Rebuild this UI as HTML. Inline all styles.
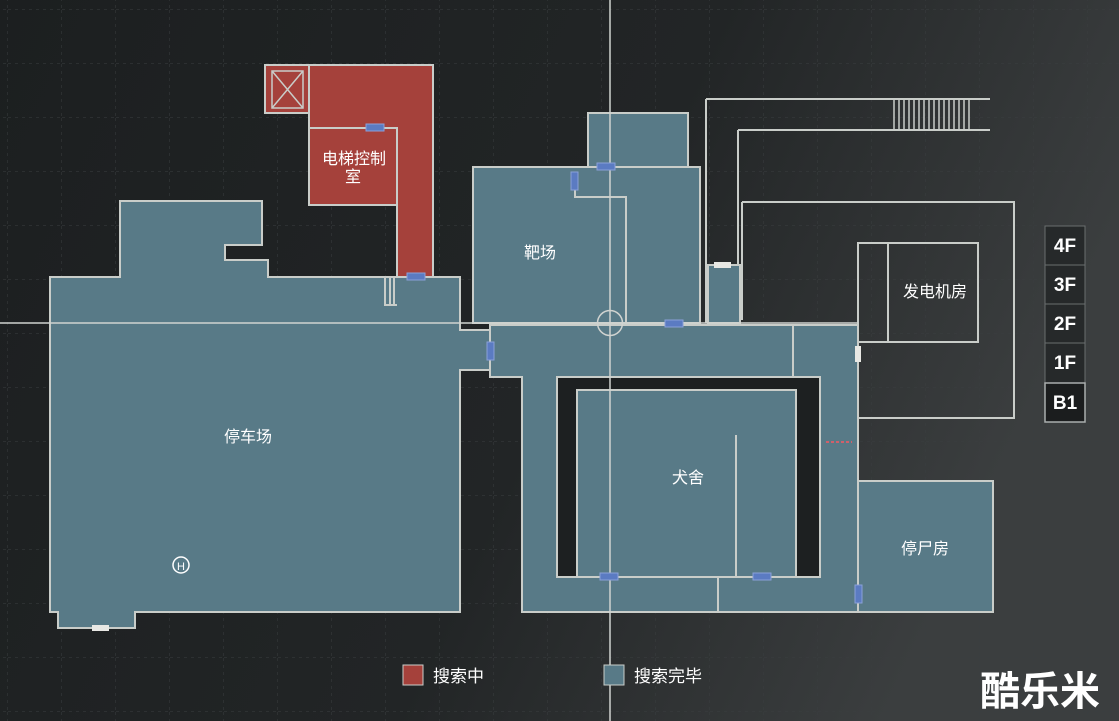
<!DOCTYPE html>
<html><head><meta charset="utf-8"><style>
html,body{margin:0;padding:0;background:#1f2223;}
svg{display:block}
text{font-family:"Liberation Sans","Noto Sans CJK SC",sans-serif;fill:#fff;}
</style></head><body>
<svg width="1119" height="721" viewBox="0 0 1119 721" xmlns="http://www.w3.org/2000/svg">
<defs>
<linearGradient id="bg" x1="0" y1="0" x2="1" y2="0.3">
<stop offset="0" stop-color="#1c1f20"/><stop offset="0.6" stop-color="#222526"/><stop offset="1" stop-color="#3b3e3f"/>
</linearGradient>
<pattern id="grid" width="54" height="54" patternUnits="userSpaceOnUse" x="8" y="10">
<path d="M54 0V54M0 54H54" stroke="#3a3e40" stroke-width="1" stroke-dasharray="3 4" fill="none"/>
</pattern>
</defs>
<rect width="1119" height="721" fill="url(#bg)"/>
<rect width="1119" height="721" fill="url(#grid)"/>

<g stroke="#c9cdc9" stroke-width="2" fill="none">
<path d="M706 99H990M706 99V323M738 130H990M738 130V323"/>
<path d="M742 202H1014V418H858M742 202V320"/>
<rect x="858" y="243" width="120" height="99"/>
<path d="M888 243V342"/>
</g>
<g stroke="#c9cdc9" stroke-width="1.5">
<path d="M894 99V130M899 99V130M904 99V130M909 99V130M914 99V130M919 99V130M924 99V130M929 99V130M934 99V130M939 99V130M944 99V130M949 99V130M954 99V130M959 99V130M964 99V130M969 99V130"/>
</g>

<g fill="#587a87" stroke="#c9cdc9" stroke-width="2">
<path d="M120 201H262V245H225V260H268V277H460V330H490V370H460V612H135V628H58V612H50V277H120Z"/>
<rect x="588" y="113" width="100" height="54"/>
<rect x="473" y="167" width="227" height="156"/>
<rect x="708" y="265" width="32" height="58"/>
<path d="M490 325H858V612H522V377H490Z"/>
<rect x="858" y="481" width="135" height="131"/>
</g>
<rect x="557" y="377" width="263" height="200" fill="#1d2021" stroke="#c9cdc9" stroke-width="2"/>
<rect x="577" y="390" width="219" height="187" fill="#587a87" stroke="#c9cdc9" stroke-width="2"/>
<g stroke="#c9cdc9" stroke-width="2" fill="none">
<path d="M793 325V377M718 577V612M736 435V577M575 183V197H626V323"/>
<path d="M385 277V305H397M390 277V305M394 277V305"/>
</g>

<g stroke="#c9cdc9" stroke-width="2">
<path d="M309 65H433V277H397V205H309Z" fill="#a5413b"/>
<rect x="265" y="65" width="44" height="48" fill="#a5413b"/>
<path d="M309 128H397V205" fill="none"/>
<rect x="272" y="71" width="31" height="37" fill="none" stroke-width="1.5"/>
<path d="M272 71L303 108M303 71L272 108" stroke-width="1.5"/>
</g>

<g stroke="#d0d3d0" stroke-width="1.5" fill="none">
<path d="M610 0V721M0 323H858"/>
<circle cx="610" cy="323" r="12.5"/>
</g>

<g fill="#5b7bc2" stroke="#8aa0d8" stroke-width="1">
<rect x="366" y="124" width="18" height="7"/>
<rect x="407" y="273" width="18" height="7"/>
<rect x="597" y="163" width="18" height="7"/>
<rect x="571" y="172" width="7" height="18"/>
<rect x="665" y="320" width="18" height="7"/>
<rect x="487" y="342" width="7" height="18"/>
<rect x="600" y="573" width="18" height="7"/>
<rect x="753" y="573" width="18" height="7"/>
<rect x="855" y="585" width="7" height="18"/>
</g>
<g fill="#e8e8e4">
<rect x="714" y="262" width="17" height="6"/>
<rect x="855" y="346" width="6" height="16"/>
<rect x="92" y="625" width="17" height="6"/>
</g>
<path d="M826 442H852" stroke="#d0606a" stroke-width="2" stroke-dasharray="3 2"/>
<circle cx="181" cy="565" r="8" fill="none" stroke="#fff" stroke-width="1.5"/>
<text x="181" y="570" font-size="11" text-anchor="middle">H</text>

<g font-size="16" text-anchor="middle">
<text x="354" y="164">电梯控制</text>
<text x="353" y="182">室</text>
<text x="540" y="258">靶场</text>
<text x="248" y="442">停车场</text>
<text x="688" y="483">犬舍</text>
<text x="925" y="554">停尸房</text>
<text x="935" y="297">发电机房</text>
</g>

<g stroke="#6a6e6f" stroke-width="1" fill="#26292a">
<rect x="1045" y="226" width="40" height="39"/>
<rect x="1045" y="265" width="40" height="39"/>
<rect x="1045" y="304" width="40" height="39"/>
<rect x="1045" y="343" width="40" height="40"/>
</g>
<rect x="1045" y="383" width="40" height="39" fill="#1b1d1e" stroke="#aaaeae" stroke-width="1.5"/>
<g font-size="19" text-anchor="middle" font-weight="bold">
<text x="1065" y="252" fill="#d8dada">4F</text>
<text x="1065" y="291" fill="#d8dada">3F</text>
<text x="1065" y="330" fill="#d8dada">2F</text>
<text x="1065" y="369" fill="#d8dada">1F</text>
<text x="1065" y="409">B1</text>
</g>

<rect x="403" y="665" width="20" height="20" fill="#a5413b" stroke="#c9cdc9" stroke-width="1"/>
<text x="433" y="682" font-size="17" fill="#d8dada">搜索中</text>
<rect x="604" y="665" width="20" height="20" fill="#587a87" stroke="#c9cdc9" stroke-width="1"/>
<text x="634" y="682" font-size="17" fill="#d8dada">搜索完毕</text>
<text x="1040" y="705" font-size="40" font-weight="bold" text-anchor="middle" fill="#f4f4f4">酷乐米</text>
</svg>
</body></html>
